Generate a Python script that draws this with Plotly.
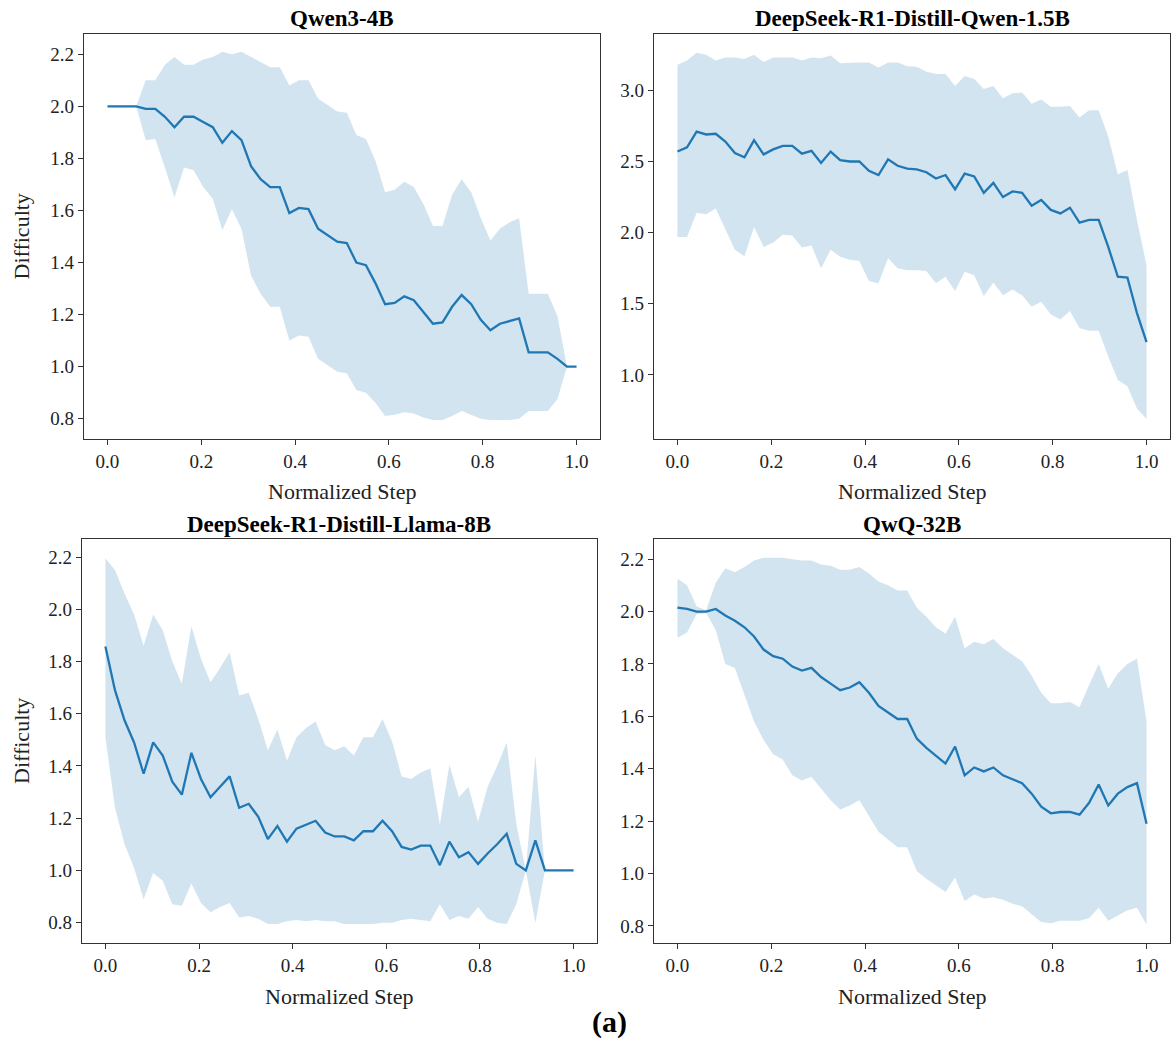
import plotly.graph_objs as go

# normalized step grid (50 samples per run)
steps = [i / 49 for i in range(50)]

qwen4b_mean = [2.00, 2.00, 2.00, 2.00, 1.99, 1.99, 1.96, 1.92, 1.96, 1.96,
               1.94, 1.92, 1.86, 1.905, 1.87, 1.77, 1.72, 1.69, 1.69, 1.59,
               1.61, 1.605, 1.53, 1.505, 1.48, 1.475, 1.40, 1.39, 1.32, 1.24,
               1.245, 1.27, 1.255, 1.21, 1.165, 1.17, 1.23, 1.275, 1.24, 1.18,
               1.14, 1.165, 1.175, 1.185, 1.055, 1.055, 1.055, 1.03, 1.00, 1.00]
qwen4b_upper = [2.00, 2.00, 2.00, 2.00, 2.10, 2.10, 2.16, 2.19, 2.16, 2.16,
                2.18, 2.19, 2.21, 2.20, 2.21, 2.19, 2.17, 2.15, 2.15, 2.08,
                2.10, 2.10, 2.03, 2.005, 1.98, 1.975, 1.89, 1.875, 1.79, 1.67,
                1.68, 1.71, 1.69, 1.625, 1.54, 1.54, 1.66, 1.72, 1.67, 1.57,
                1.485, 1.53, 1.555, 1.57, 1.28, 1.28, 1.28, 1.195, 1.00, 1.00]
qwen4b_lower = [2.00, 2.00, 2.00, 2.00, 1.87, 1.875, 1.765, 1.65, 1.765, 1.755,
                1.69, 1.645, 1.525, 1.605, 1.53, 1.35, 1.28, 1.23, 1.23, 1.10,
                1.12, 1.115, 1.03, 1.005, 0.98, 0.975, 0.91, 0.90, 0.86, 0.81,
                0.815, 0.825, 0.82, 0.805, 0.795, 0.795, 0.81, 0.83, 0.815, 0.80,
                0.795, 0.795, 0.795, 0.80, 0.83, 0.83, 0.83, 0.875, 1.00, 1.00]

r1qwen_mean = [2.57, 2.60, 2.71, 2.69, 2.695, 2.64, 2.56, 2.53, 2.65, 2.55,
               2.585, 2.61, 2.61, 2.555, 2.575, 2.49, 2.57, 2.51, 2.50, 2.50,
               2.435, 2.405, 2.515, 2.47, 2.45, 2.445, 2.425, 2.38, 2.405, 2.305,
               2.415, 2.395, 2.28, 2.35, 2.25, 2.29, 2.28, 2.19, 2.23, 2.16,
               2.135, 2.175, 2.07, 2.09, 2.09, 1.90, 1.69, 1.685, 1.435, 1.23]
r1qwen_upper = [3.18, 3.21, 3.265, 3.25, 3.21, 3.23, 3.23, 3.22, 3.25, 3.20,
                3.23, 3.23, 3.23, 3.21, 3.23, 3.225, 3.245, 3.19, 3.195, 3.195,
                3.195, 3.16, 3.195, 3.195, 3.17, 3.165, 3.13, 3.115, 3.115, 3.03,
                3.10, 3.08, 3.01, 3.03, 2.945, 2.98, 2.985, 2.905, 2.935, 2.885,
                2.885, 2.89, 2.81, 2.86, 2.86, 2.675, 2.41, 2.44, 2.09, 1.77]
r1qwen_lower = [1.97, 1.97, 2.14, 2.13, 2.17, 2.03, 1.88, 1.835, 2.04, 1.90,
                1.93, 1.985, 1.98, 1.895, 1.91, 1.75, 1.88, 1.83, 1.81, 1.80,
                1.66, 1.645, 1.82, 1.75, 1.735, 1.735, 1.73, 1.645, 1.69, 1.59,
                1.725, 1.70, 1.555, 1.65, 1.56, 1.60, 1.56, 1.48, 1.515, 1.425,
                1.39, 1.45, 1.33, 1.31, 1.31, 1.13, 0.965, 0.92, 0.765, 0.69]

llama_mean = [1.857, 1.69, 1.575, 1.49, 1.37, 1.49, 1.44, 1.34, 1.29, 1.45,
              1.35, 1.28, 1.32, 1.36, 1.24, 1.255, 1.205, 1.12, 1.17, 1.11,
              1.16, 1.175, 1.19, 1.145, 1.13, 1.13, 1.115, 1.15, 1.15, 1.19,
              1.15, 1.09, 1.08, 1.095, 1.095, 1.02, 1.11, 1.05, 1.07, 1.025,
              1.065, 1.10, 1.14, 1.025, 1.00, 1.115, 1.00, 1.00, 1.00, 1.00]
llama_upper = [2.195, 2.15, 2.06, 1.98, 1.86, 1.98, 1.92, 1.80, 1.715, 1.935,
               1.81, 1.72, 1.775, 1.835, 1.67, 1.68, 1.58, 1.46, 1.54, 1.42,
               1.51, 1.545, 1.57, 1.48, 1.46, 1.475, 1.44, 1.51, 1.51, 1.58,
               1.495, 1.36, 1.35, 1.375, 1.39, 1.175, 1.405, 1.28, 1.32, 1.185,
               1.32, 1.40, 1.49, 1.18, 1.00, 1.44, 1.00, 1.00, 1.00, 1.00]
llama_lower = [1.51, 1.24, 1.10, 1.01, 0.89, 0.99, 0.96, 0.87, 0.865, 0.95,
               0.875, 0.84, 0.86, 0.875, 0.82, 0.825, 0.815, 0.795, 0.795, 0.805,
               0.81, 0.805, 0.81, 0.805, 0.805, 0.795, 0.795, 0.795, 0.795, 0.80,
               0.80, 0.81, 0.815, 0.81, 0.805, 0.87, 0.81, 0.825, 0.815, 0.86,
               0.815, 0.80, 0.795, 0.87, 1.00, 0.80, 1.00, 1.00, 1.00, 1.00]

qwq_mean = [2.015, 2.01, 2.00, 2.00, 2.01, 1.985, 1.965, 1.94, 1.905, 1.855,
            1.83, 1.82, 1.79, 1.775, 1.785, 1.75, 1.725, 1.70, 1.71, 1.73,
            1.69, 1.64, 1.615, 1.59, 1.59, 1.515, 1.48, 1.45, 1.42, 1.485,
            1.375, 1.405, 1.39, 1.405, 1.375, 1.36, 1.345, 1.305, 1.255, 1.23,
            1.235, 1.235, 1.225, 1.27, 1.34, 1.26, 1.305, 1.33, 1.345, 1.19]
qwq_upper = [2.125, 2.10, 2.02, 2.005, 2.11, 2.165, 2.15, 2.17, 2.195, 2.205,
             2.205, 2.205, 2.20, 2.195, 2.195, 2.18, 2.175, 2.16, 2.16, 2.17,
             2.145, 2.115, 2.10, 2.08, 2.08, 2.015, 1.98, 1.94, 1.915, 1.98,
             1.86, 1.885, 1.875, 1.895, 1.86, 1.835, 1.81, 1.755, 1.69, 1.65,
             1.65, 1.655, 1.635, 1.72, 1.80, 1.705, 1.765, 1.80, 1.82, 1.58]
qwq_lower = [1.90, 1.92, 1.99, 1.995, 1.93, 1.80, 1.785, 1.68, 1.58, 1.51,
             1.455, 1.435, 1.375, 1.355, 1.37, 1.325, 1.28, 1.245, 1.26, 1.28,
             1.22, 1.16, 1.13, 1.10, 1.10, 1.01, 0.98, 0.955, 0.93, 0.985,
             0.895, 0.92, 0.905, 0.91, 0.90, 0.885, 0.875, 0.845, 0.815, 0.81,
             0.82, 0.82, 0.82, 0.83, 0.87, 0.82, 0.84, 0.86, 0.87, 0.805]

model_names = ['Qwen3-4B', 'DeepSeek-R1-Distill-Qwen-1.5B',
               'DeepSeek-R1-Distill-Llama-8B', 'QwQ-32B']
x_ticks = [0.0, 0.2, 0.4, 0.6, 0.8, 1.0]

W, H = 1176, 1056
LINE = '#1f77b4'
BAND = 'rgba(31,119,180,0.2)'
FONT = 'Liberation Serif, Times New Roman, serif'
INK = '#222222'

# (series, x px left/right, y px top/bottom, y range, y dtick)
panels = [
    ((qwen4b_mean, qwen4b_upper, qwen4b_lower), (84, 600), (34, 439), (0.722, 2.278), 0.2),
    ((r1qwen_mean, r1qwen_upper, r1qwen_lower), (654, 1170), (34, 439), (0.55, 3.396), 0.5),
    ((llama_mean, llama_upper, llama_lower), (82, 597), (539, 943), (0.722, 2.269), 0.2),
    ((qwq_mean, qwq_upper, qwq_lower), (654, 1170), (539, 943), (0.735, 2.277), 0.2),
]

fig = go.Figure()
layout = dict(width=W, height=H, margin=dict(l=0, r=0, t=0, b=0),
              paper_bgcolor='white', plot_bgcolor='white', showlegend=False,
              font=dict(family=FONT, color=INK, size=18))
annotations = []

for k, ((mean, upper, lower), (xl, xr), (yt, yb), yrange, dtick) in enumerate(panels):
    n = '' if k == 0 else str(k + 1)
    xa, ya = 'x' + n, 'y' + n
    fig.add_trace(go.Scatter(x=steps, y=upper, mode='lines', line=dict(width=0),
                             xaxis=xa, yaxis=ya, hoverinfo='skip'))
    fig.add_trace(go.Scatter(x=steps, y=lower, mode='lines', line=dict(width=0),
                             fill='tonexty', fillcolor=BAND, xaxis=xa, yaxis=ya,
                             hoverinfo='skip'))
    fig.add_trace(go.Scatter(x=steps, y=mean, mode='lines',
                             line=dict(color=LINE, width=2.3), xaxis=xa, yaxis=ya))

    ax_common = dict(showline=True, mirror=True, linecolor='#333333', linewidth=1.3,
                     ticks='outside', ticklen=5, tickwidth=1.2, tickcolor='#333333',
                     showgrid=False, zeroline=False, tickformat='.1f',
                     tickfont=dict(family=FONT, size=19, color=INK))
    layout['xaxis' + n] = dict(ax_common, domain=[xl / W, xr / W], range=[-0.05, 1.05],
                               tickvals=x_ticks, anchor=ya)
    layout['yaxis' + n] = dict(ax_common, domain=[1 - yb / H, 1 - yt / H], range=list(yrange),
                               dtick=dtick, tick0=0, anchor=xa)

    xc = (xl + xr) / 2 / W
    annotations.append(dict(text='<b>' + model_names[k] + '</b>', x=xc, y=1 - (yt - 15) / H,
                            xref='paper', yref='paper', showarrow=False,
                            xanchor='center', yanchor='middle',
                            font=dict(family=FONT, size=23, color='black')))
    annotations.append(dict(text='Normalized Step', x=xc, y=1 - (yb + 53) / H,
                            xref='paper', yref='paper', showarrow=False,
                            xanchor='center', yanchor='middle',
                            font=dict(family=FONT, size=22, color=INK)))
    if k in (0, 2):
        annotations.append(dict(text='Difficulty', x=21 / W, y=1 - (yt + yb) / 2 / H,
                                xref='paper', yref='paper', showarrow=False, textangle=-90,
                                xanchor='center', yanchor='middle',
                                font=dict(family=FONT, size=22, color=INK)))

annotations.append(dict(text='<b>(a)</b>', x=609 / W, y=1 - 1022 / H, xref='paper', yref='paper',
                        showarrow=False, xanchor='center', yanchor='middle',
                        font=dict(family=FONT, size=30, color='black')))

layout['annotations'] = annotations
fig.update_layout(**layout)

# drop the default page margin so the figure sits at the window origin
fig.write_html("out.html", config={'displayModeBar': False},
               post_script="document.body.style.margin='0';")
